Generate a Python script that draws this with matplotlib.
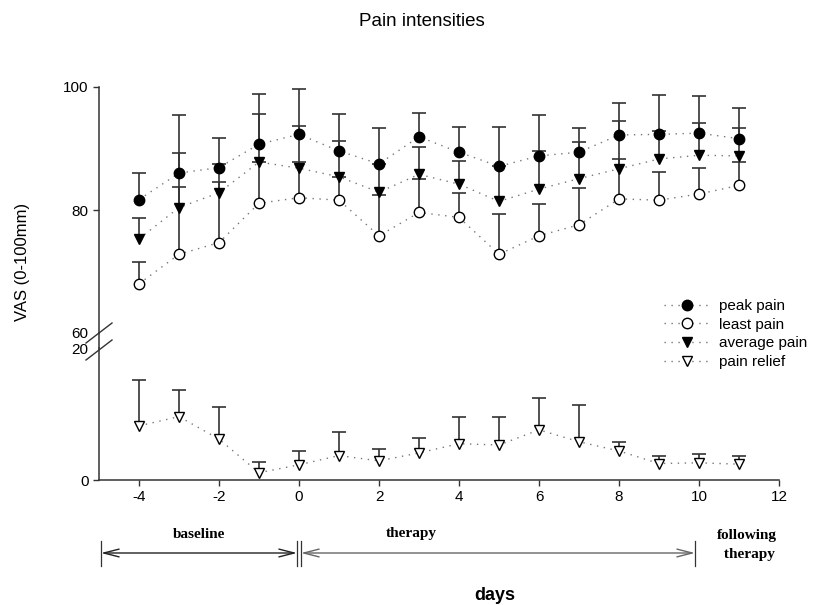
import matplotlib.pyplot as plt
import numpy as np
from matplotlib.lines import Line2D
from matplotlib.transforms import blended_transform_factory

plt.rcParams['font.family'] = ['Liberation Sans', 'DejaVu Sans']
plt.rcParams['axes.unicode_minus'] = False

## values (mean and upper SD)
days = np.arange(-4, 12)

peak_pain    = [81.7, 86.0, 86.9, 90.7, 92.3, 89.6, 87.5, 91.9,
                89.4, 87.1, 88.8, 89.4, 92.2, 92.3, 92.5, 91.6]
peak_sd      = [4.3, 9.5, 4.8, 8.2, 7.3, 6.0, 5.9, 3.9,
                4.1, 6.4, 6.6, 4.0, 5.2, 6.4, 6.0, 5.0]

least_pain   = [68.0, 72.8, 74.7, 81.1, 82.0, 81.6, 75.8, 79.6,
                78.8, 72.8, 75.8, 77.6, 81.8, 81.6, 82.6, 84.0]
least_sd     = [3.5, 10.9, 9.9, 6.7, 5.8, 3.8, 6.6, 5.4,
                3.9, 6.6, 5.2, 5.9, 6.5, 4.5, 4.3, 3.8]

average_pain = [75.3, 80.4, 82.8, 87.8, 86.8, 85.4, 82.9, 85.8,
                84.2, 81.4, 83.4, 85.1, 86.7, 88.3, 88.9, 88.8]
average_sd   = [3.4, 8.8, 4.7, 7.8, 6.9, 5.8, 4.6, 4.5,
                3.7, 5.7, 6.2, 5.9, 7.7, 4.6, 5.2, 4.6]

pain_relief  = [8.2, 9.6, 6.2, 1.1, 2.3, 3.7, 2.9, 4.1,
                5.5, 5.3, 7.6, 5.8, 4.4, 2.5, 2.6, 2.4]
relief_sd    = [7.0, 4.1, 4.8, 1.7, 2.1, 3.5, 1.8, 2.2,
                4.1, 4.2, 4.9, 5.6, 1.4, 1.2, 1.3, 1.2]

## study phases shown under the x axis: (start, end, label, text x)
phases = [(-4.95, -0.05, 'baseline', -2.5),
          (0.05, 9.9, 'therapy', 2.8)]

W, H = 830, 605
AX_COLOR = '#333333'


def fx(px):
    return px / W


def fy(px):
    return 1 - px / H


def series(ax, x, y, sd, marker, face, label):
    y = np.asarray(y)
    top = y + np.asarray(sd)
    ax.vlines(x, y, top, color=AX_COLOR, lw=1.2, zorder=2)
    ax.plot(x, top, ls='none', marker='_', ms=9.5, mew=1.2,
            color=AX_COLOR, zorder=2)
    line, = ax.plot(x, y, ls=(0, (1, 4)), lw=1.0, color='#777777',
                    marker=marker, ms=7.5, mfc=face, mec='black', mew=1.0,
                    zorder=3, label=label)
    return line


fig = plt.figure(figsize=(8.3, 6.05), dpi=100)
ax_top = fig.add_axes([fx(99), fy(333), fx(680), (333 - 87) / H])
ax_bot = fig.add_axes([fx(99), fy(480), fx(680), (480 - 348) / H])

h1 = series(ax_top, days, peak_pain, peak_sd, 'o', 'black', 'peak pain')
h2 = series(ax_top, days, least_pain, least_sd, 'o', 'white', 'least pain')
h3 = series(ax_top, days, average_pain, average_sd, 'v', 'black', 'average pain')
h4 = series(ax_bot, days, pain_relief, relief_sd, 'v', 'white', 'pain relief')

for ax in (ax_top, ax_bot):
    ax.set_xlim(-5, 12)
    for s in ('top', 'right'):
        ax.spines[s].set_visible(False)
    for s in ('left', 'bottom'):
        ax.spines[s].set_color(AX_COLOR)
        ax.spines[s].set_linewidth(1.1)
    ax.tick_params(direction='out', length=4.5, width=1.0, color=AX_COLOR,
                   labelsize=11, pad=3)

ax_top.set_ylim(60, 100)
ax_top.set_yticks([60, 80, 100])
ax_top.spines['bottom'].set_visible(False)
ax_top.set_xticks([])
ax_top.yaxis.get_major_ticks()[0].tick1line.set_visible(False)

ax_bot.set_ylim(0, 20)
ax_bot.set_yticks([0, 20])
ax_bot.set_xticks(np.arange(-4, 13, 2))
ax_bot.yaxis.get_major_ticks()[1].tick1line.set_visible(False)

## axis break: join the spines and draw the two slashes
fig.add_artist(Line2D([fx(99), fx(99)], [fy(333), fy(348)],
                      color=AX_COLOR, lw=1.1))
for y0 in (343, 360):
    fig.add_artist(Line2D([fx(86), fx(112)], [fy(y0), fy(y0 - 20)],
                          color=AX_COLOR, lw=1.0))

## phase arrows under the axis
trans = blended_transform_factory(ax_bot.transData, fig.transFigure)
for i, (x0, x1, name, tx) in enumerate(phases):
    col = '#222222' if i == 0 else '#666666'
    ax_bot.annotate('', xy=(x1, fy(553)), xytext=(x0, fy(553)),
                    xycoords=trans, textcoords=trans, annotation_clip=False,
                    arrowprops=dict(arrowstyle='<->,head_length=1.1,head_width=0.28',
                                    color=col, lw=1.0, shrinkA=0, shrinkB=0))
    for xb in (x0, x1):
        ax_bot.plot([xb, xb], [fy(541), fy(566)], transform=trans,
                    color=AX_COLOR, lw=0.9, clip_on=False)
    ax_bot.text(tx, fy(534), name, transform=trans, ha='center', va='center',
                family='Liberation Serif', weight='bold', fontsize=11)

ax_bot.text(11.2, fy(545), 'following\n therapy', transform=trans,
            ha='center', va='center', family='Liberation Serif',
            weight='bold', fontsize=11, linespacing=1.55)

fig.text(fx(422), fy(21), 'Pain intensities', ha='center', va='center',
         fontsize=13.5)
fig.text(fx(22), fy(262), 'VAS (0-100mm)', ha='center', va='center',
         rotation=90, fontsize=12)
fig.text(fx(495), fy(596), 'days', ha='center', va='center',
         fontsize=13, weight='bold')

fig.legend(handles=[h1, h2, h3, h4], loc='center left',
           bbox_to_anchor=(fx(664), fy(334)), frameon=False,
           fontsize=11, handlelength=3.0, handletextpad=0.6,
           labelspacing=0.3, borderpad=0, borderaxespad=0, numpoints=1)

fig.savefig('out.png', dpi=100)
